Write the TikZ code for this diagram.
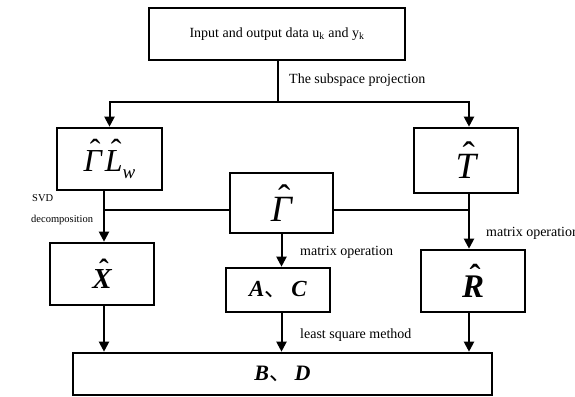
\documentclass[tikz,border=0pt]{standalone}
\usepackage{fontspec}
\setmainfont{Liberation Serif}
\newfontfamily\cjk{Noto Sans CJK SC}
\usetikzlibrary{arrows.meta}

% italic / bold-italic letters topped by a circumflex hat
\newcommand{\hatit}[1]{\hbox{\setbox0=\hbox{\itshape #1}%
  \rlap{\hbox to \wd0{\hss\kern0.15em\raisebox{0.3em}{\upshape\char"02C6}\hss}}\box0}}
\newcommand{\hatbf}[1]{\hbox{\setbox0=\hbox{\bfseries\itshape #1}%
  \rlap{\hbox to \wd0{\hss\kern0.13em\raisebox{0.3em}{\bfseries\upshape\char"02C6}\hss}}\box0}}
\newcommand{\dun}{{\cjk 、}}

\tikzset{
  blk/.style={draw, line width=2.6pt, inner sep=0pt, align=center},
  conn/.style={line width=2pt},
  arr/.style={conn, -{Triangle[length=10pt,width=10pt]}},
  lbl/.style={font=\fontsize{14}{16}\selectfont, inner sep=0pt, anchor=west},
  sml/.style={font=\fontsize{10.5}{12}\selectfont, inner sep=0pt, anchor=west},
}

\begin{document}
\begin{tikzpicture}[x=1pt,y=-1pt]
\useasboundingbox (0,0) rectangle (575,396);

% boxes
\node[blk, minimum width=256pt, minimum height=52pt, font=\fontsize{14}{16}\selectfont]
  (top) at (277,34) {Input and output data u\textsubscript{k} and y\textsubscript{k}};
\node[blk, minimum width=105pt, minimum height=62pt, font=\fontsize{32}{34}\selectfont]
  (gl) at (109.5,159) {\raisebox{-3pt}{\hatit{Γ}\kern3pt\hatit{L}\raisebox{-7pt}{\fontsize{19}{20}\selectfont\itshape w}}};
\node[blk, minimum width=104pt, minimum height=65pt, font=\fontsize{37}{39}\selectfont]
  (t) at (466,160.5) {\hatit{T}};
\node[blk, minimum width=103pt, minimum height=60pt, font=\fontsize{37}{39}\selectfont]
  (g) at (281.5,203) {\hatit{Γ}};
\node[blk, minimum width=104pt, minimum height=62pt, font=\fontsize{29}{31}\selectfont]
  (x) at (102,274) {\hatbf{X}};
\node[blk, minimum width=104pt, minimum height=44pt, font=\fontsize{23}{25}\selectfont]
  (ac) at (278,290) {\textbf{\textit{A}}\dun\,\textbf{\textit{C}}};
\node[blk, minimum width=104pt, minimum height=62pt, font=\fontsize{33}{35}\selectfont]
  (r) at (473,281) {\hatbf{R}};
\node[blk, minimum width=419pt, minimum height=42pt, font=\fontsize{22}{24}\selectfont]
  (bd) at (282.5,374) {\textbf{\textit{B}}\dun\,\textbf{\textit{D}}};

% junction points
\coordinate (s) at (278,102);
\coordinate (jl) at (104,210);
\coordinate (jr) at (469,210);

% subspace projection split
\draw[conn] (top.south -| s) -- (s);
\draw[arr] (s) -| (gl.north);
\draw[arr] (s) -| (jr |- t.north);

% horizontal line through the Gamma box
\draw[conn] (jl) -- (jl -| g.west);
\draw[conn] (jr) -- (jr -| g.east);

% downward flows
\draw[arr] (gl.south -| jl) -- (x.north -| jl);
\draw[arr] (t.south -| jr) -- (r.north -| jr);
\draw[arr] (g.south) -- (g.south |- ac.north);
\draw[arr] (x.south -| jl) -- (bd.north -| jl);
\draw[arr] (ac.south -| g.south) -- (bd.north -| g.south);
\draw[arr] (r.south -| jr) -- (bd.north -| jr);

% labels
\node[lbl] (l1) at (289,80) {The subspace projection};
\node[sml] (l2) at (32,198) {SVD};
\node[sml] (l3) at (31,220) {decomposition};
\node[lbl] (l4) at (300,252) {matrix operation};
\node[lbl] (l5) at (486,233) {matrix operation};
\node[lbl] (l6) at (300,335) {least square method};
\end{tikzpicture}
\end{document}
